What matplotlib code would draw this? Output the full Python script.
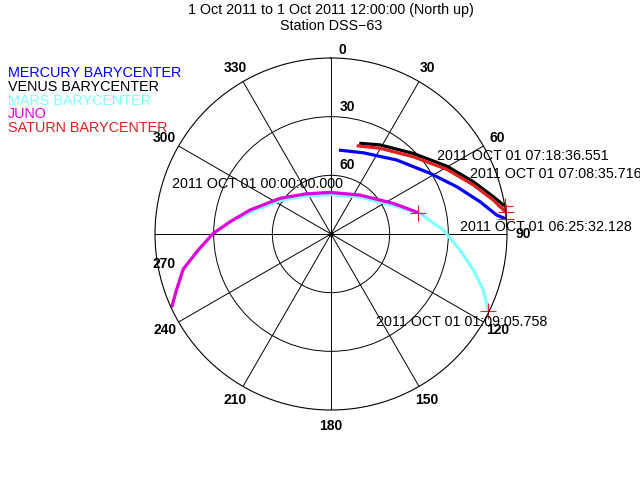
import numpy as np
import matplotlib
matplotlib.use("Agg")
import matplotlib.pyplot as plt
from matplotlib.transforms import offset_copy

plt.rcParams['font.family'] = ['Liberation Sans', 'DejaVu Sans']

title = "1 Oct 2011 to 1 Oct 2011 12:00:00 (North up)"
subtitle = "Station DSS\u221263"

bodies = ["MERCURY BARYCENTER", "VENUS BARYCENTER", "MARS BARYCENTER", "JUNO", "SATURN BARYCENTER"]
colors = ["#0000ff", "#000000", "#80ffff", "#dd00dd", "#e02020"]

# azimuth (deg, clockwise from north) and elevation (deg), in time order
mercury_az = [85.1, 83.5, 77.8, 69.4, 58.5, 41.6, 21.7, 5.4]
mercury_el = [0.0, 4.7, 12.0, 21.3, 30.6, 39.4, 45.3, 46.9]
venus_az = [80.9, 77.1, 69.8, 59.6, 45.6, 28.8, 17.3]
venus_el = [0.0, 4.8, 12.5, 21.4, 31.1, 38.0, 41.4]
mars_az = [116.1, 110.2, 104.2, 97.1, 88.0, 76.9, 65.3, 38.1, 358.6, 325.6, 303.3, 285.2, 278.8]
mars_el = [0.4, 7.0, 14.9, 23.5, 32.5, 43.3, 55.1, 66.0, 69.8, 66.5, 58.8, 47.1, 41.4]
juno_az = [76.3, 63.8, 36.6, 358.6, 327.0, 305.0, 286.5, 276.9, 270.3, 263.1, 256.6, 250.1, 245.3]
juno_el = [44.0, 54.5, 65.2, 68.7, 65.6, 58.2, 46.8, 38.0, 29.8, 21.6, 12.3, 6.0, 0.3]
saturn_az = [82.8, 78.2, 71.0, 60.8, 46.8, 29.8, 16.2]
saturn_el = [0.0, 5.2, 13.0, 22.2, 32.3, 39.5, 43.0]

tracks = [(mercury_az, mercury_el), (venus_az, venus_el), (mars_az, mars_el),
          (juno_az, juno_el), (saturn_az, saturn_el)]

# event labels: text, left edge / centre y in pixels
events = [("2011 OCT 01 07:18:36.551", 437, 156),
          ("2011 OCT 01 07:08:35.716", 470, 174),
          ("2011 OCT 01 06:25:32.128", 460, 227),
          ("2011 OCT 01 01:09:05.758", 376, 322),
          ("2011 OCT 01 00:00:00.000", 172, 184)]

az_ticks = np.arange(0, 360, 30)
el_rings = [30, 60]

W, H = 640, 482
fig = plt.figure(figsize=(6.4, 4.82), dpi=100)
cx, cy, R = 331, 234, 176
ax = fig.add_axes([(cx - R) / W, (H - cy - R) / H, 2 * R / W, 2 * R / H], projection='polar')
ax.set_theta_zero_location('N')
ax.set_theta_direction(-1)
ax.set_ylim(0, 90)
ax.set_thetagrids(az_ticks, labels=[])
ax.set_rgrids([90 - e for e in el_rings], labels=[])
ax.grid(True, color='black', lw=0.7)
ax.spines['polar'].set_linewidth(0.8)
ax.set_facecolor('white')

for (az, el), c in zip(tracks, colors):
    th = np.unwrap(np.radians(az))
    r = 90 - np.asarray(el)
    ax.plot(th, r, color=c, lw=2.3, solid_capstyle='butt', solid_joinstyle='round')

for az, el in tracks:
    ax.plot(np.radians(az[0]), 90 - el[0], '+', color='#e02020', ms=11, mew=0.8, clip_on=False)

ax.plot(0, 0, 'o', color='black', ms=2.5)

# azimuth labels
r_lab = 90 * 192 / R
shift = {0: (11, -8), 270: (25, -30)}
for a in az_ticks:
    dx, dy = shift.get(int(a), (0, 0))
    tr = offset_copy(ax.transData, fig=fig, x=dx, y=dy, units='dots')
    ax.text(np.radians(a), r_lab, str(a), transform=tr, ha='center', va='center',
            fontsize=10, fontweight='bold', clip_on=False)

# elevation labels
for e in el_rings:
    tr = offset_copy(ax.transData, fig=fig, x=16, y=10, units='dots')
    ax.text(0, 90 - e, str(e), transform=tr, ha='center', va='center',
            fontsize=10, fontweight='bold')

def px(x, y):
    return x / W, 1 - y / H

fig.text(*px(331, 10), title, ha='center', va='center', fontsize=10.3)
fig.text(*px(331, 26), subtitle, ha='center', va='center', fontsize=10.3)

for i, (name, c) in enumerate(zip(bodies, colors)):
    fig.text(*px(8, 73 + 13.8 * i), name, color=c, ha='left', va='center', fontsize=10.4)

for txt, x, y in events:
    fig.text(*px(x, y), txt, ha='left', va='center', fontsize=10.3)

fig.savefig("out.png", dpi=100, facecolor='white')
